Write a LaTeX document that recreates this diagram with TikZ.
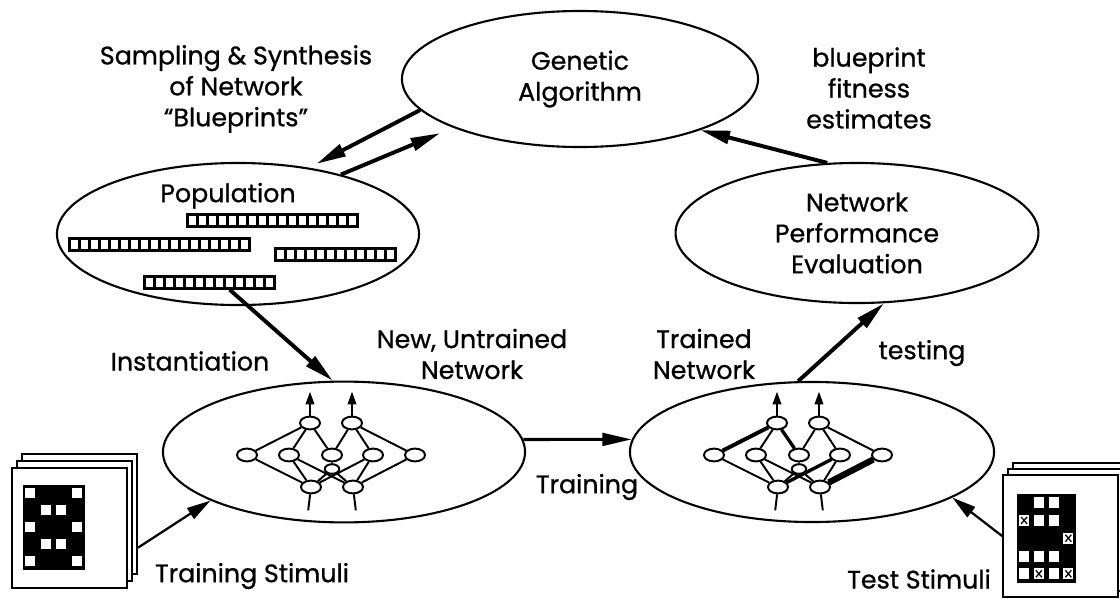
\documentclass[tikz,border=0pt]{standalone}
\usepackage{fontspec}
\setmainfont{Poppins}[FakeBold=0.8]
\usetikzlibrary{positioning,shapes.geometric,arrows.meta,calc}

\tikzset{
  blob/.style={ellipse, draw, line width=1.5pt, inner sep=0pt},
  neuron/.style={ellipse, draw, fill=white, line width=1.4pt, minimum width=0.5cm, minimum height=0.32cm, inner sep=0pt},
  wire/.style={line width=1.4pt},
  flow/.style={line width=2.8pt, -{Triangle[length=21pt,width=9pt]}},
  feed/.style={line width=1.6pt, -{Triangle[length=17pt,width=9pt]}},
  small arrow/.style={line width=1.4pt, -{Triangle[length=9pt,width=6pt]}},
  card/.style={rectangle, draw, fill=white, line width=1.3pt, minimum width=2.875cm, minimum height=3cm, inner sep=0pt},
  genebar/.style={rectangle, fill=black, minimum height=0.375cm, inner sep=0pt},
  pixgrid/.style={rectangle, fill=black, inner sep=0pt}
}

\begin{document}
\begin{tikzpicture}[x=0.025cm, y=-0.025cm, font=\fontsize{18}{22}\selectfont]
    \useasboundingbox (0,0) rectangle (1120,599);

    % the five stages
    \node[blob, minimum width=8.9cm, minimum height=3.4cm, align=center] (ga) at (580,79) {Genetic\\Algorithm};
    \node[blob, minimum width=9.05cm, minimum height=3.55cm] (pop) at (238,234) {};
    \node[blob, minimum width=9.07cm, minimum height=3.5cm, align=center] (npe) at (857,233) {Network\\Performance\\Evaluation};
    \node[blob, minimum width=9.05cm, minimum height=3.52cm] (unt) at (344,452) {};
    \node[blob, minimum width=9.1cm, minimum height=3.5cm] (trn) at (812,452) {};

    % texts
    \node[align=center] (samp) at (236,89) {Sampling \& Synthesis\\of Network\\``Blueprints''};
    \node[align=center] (fit) at (869,88) {blueprint\\fitness\\estimates};
    \node[below = 0.4cm of pop.north, xshift=-0.25cm] (poplabel) {Population};
    \node[align=center] (untlabel) at (472,354) {New, Untrained\\Network};
    \node[align=center] (trnlabel) at (704,354) {Trained\\Network};
    \node (inst) at (190,361) {Instantiation};
    \node (trainlabel) at (587,487) {Training};
    \node (testlabel) at (922,353) {testing};
    \node (trainstimlabel) at (252,576) {Training Stimuli};
    \node (teststimlabel) at (919,579) {Test Stimuli};

    % blueprints in the population
    \node[genebar, minimum width=4.325cm] (barA) at (272.5,220) {};
    \node[genebar, minimum width=4.575cm] (barB) at (159.5,244) {};
    \node[genebar, minimum width=3.075cm] (barC) at (335.5,254.5) {};
    \node[genebar, minimum width=3.325cm] (barD) at (209.5,282) {};
    \foreach \b/\n in {barA/17, barB/18, barC/12, barD/13}
        \foreach \i in {1,...,\n}
            \fill[white] ($(\b.west)+(10*\i-7,-4.5)$) rectangle ++(7,9);

    % small networks
    \foreach \n/\dx in {u/0, t/467}{
        \begin{scope}[shift={(\dx,0)}]
            \node[neuron] (\n-t1) at (310,423) {};
            \node[neuron] (\n-t2) at (352,423) {};
            \node[neuron] (\n-m1) at (247,455) {};
            \node[neuron] (\n-m2) at (289,455) {};
            \node[neuron] (\n-m3) at (332,455) {};
            \node[neuron] (\n-m4) at (373,455) {};
            \node[neuron] (\n-m5) at (415,455) {};
            \node[neuron, minimum width=0.36cm, minimum height=0.24cm] (\n-c) at (332,469) {};
            \node[neuron] (\n-b1) at (311,487) {};
            \node[neuron] (\n-b2) at (353,487) {};
            \coordinate[above = 0.6cm of \n-t1] (\n-o1);
            \coordinate[above = 0.6cm of \n-t2] (\n-o2);
            \coordinate[below = 0.4cm of \n-b1, xshift=-2pt] (\n-i1);
            \coordinate[below = 0.4cm of \n-b2, xshift=2pt] (\n-i2);
        \end{scope}
        \draw[wire] (\n-t1) -- (\n-m1) (\n-t1) -- (\n-m2) (\n-t1) -- (\n-m3)
            (\n-t2) -- (\n-m3) (\n-t2) -- (\n-m4) (\n-t2) -- (\n-m5)
            (\n-b1) -- (\n-m1) (\n-b1) -- (\n-m2) (\n-b1) -- (\n-c) (\n-b1) -- (\n-m4)
            (\n-b2) -- (\n-m5) (\n-b2) -- (\n-m4) (\n-b2) -- (\n-c) (\n-b2) -- (\n-m2)
            (\n-m3) -- (\n-c);
        \draw[small arrow] (\n-t1) -- (\n-o1);
        \draw[small arrow] (\n-t2) -- (\n-o2);
        \draw[wire] (\n-b1) -- (\n-i1) (\n-b2) -- (\n-i2);
    }
    % strengthened weights after training
    \draw[line width=2.8pt] (t-t1) -- (t-m1);
    \draw[line width=2.4pt] (t-t1) -- (t-m3);
    \draw[line width=2.4pt] (t-b1) -- (t-m4);
    \draw[line width=4.5pt] (t-b2) -- (t-m5);

    % training stimuli
    \node[card] (trainback2) at (79.5,514) {};
    \node[card] (trainback1) at (74.5,521) {};
    \node[card] (trainstim) at (69.5,528) {};
    \node[pixgrid, minimum width=1.55cm, minimum height=2.125cm] (traingrid) at (54,527.5) {};
    \foreach \c/\r in {1/1,4/1,2/2,3/2,1/3,4/3,2/4,3/4,1/5,4/5}
        \fill[white] ($(traingrid.north west)+(15.5*\c-12.75,17*\r-13.5)$) rectangle ++(10,10);

    % test stimuli
    \node[card, minimum height=3.05cm] (testback2) at (1070.5,524) {};
    \node[card, minimum height=3.05cm] (testback1) at (1065.5,530) {};
    \node[card, minimum height=3.05cm] (teststim) at (1060.5,536) {};
    \node[pixgrid, minimum width=1.475cm, minimum height=2.225cm] (testgrid) at (1046.5,538.5) {};
    \foreach \c/\r in {2/1,3/1,2/2,3/2,1/4,2/4,3/4,1/5,3/5,1/2,4/3,2/5,4/5}
        \fill[white] ($(testgrid.north west)+(14.75*\c-12.35,17.8*\r-14.4)$) rectangle ++(10,11);
    \foreach \c/\r in {1/2,4/3,2/5,4/5}
        \draw[line width=0.9pt] ($(testgrid.north west)+(14.75*\c-10.35,17.8*\r-12.4)$) -- ++(6,7) ++(0,-7) -- ++(-6,7);

    % arrows
    \draw[flow, shorten >=6pt] (ga.191) -- (pop.43);
    \draw[flow, shorten >=10pt] (pop.30) -- (ga.201);
    \draw[flow] (barD.-21) -- (unt.99);
    \draw[flow, line width=2.2pt] (unt.4) -- (trn.176);
    \draw[flow] (trn.101) -- (npe.291);
    \draw[flow] (npe.113) -- (ga.337);
    \draw[feed] (trainback2.-30) -- (unt.200);
    \draw[feed] (teststim.west) -- (trn.342);
\end{tikzpicture}
\end{document}
